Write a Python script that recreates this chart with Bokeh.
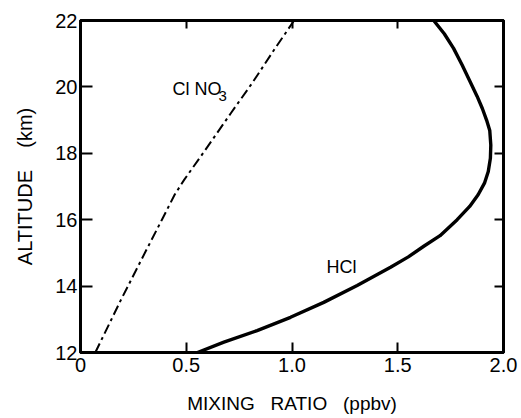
from bokeh.plotting import figure
from bokeh.models import Range1d, LinearAxis, FixedTicker, CustomJSTickFormatter
from bokeh.core.properties import value
from bokeh.embed import file_html
from bokeh.resources import INLINE

# HCl mixing ratio profile (ppbv) vs altitude (km)
hcl_x = [0.553, 0.678, 0.835, 0.993, 1.15, 1.308, 1.466, 1.55, 1.623, 1.70, 1.781, 1.84, 1.88, 1.91, 1.928,
         1.938, 1.94, 1.935, 1.92, 1.90, 1.875, 1.844, 1.805, 1.764, 1.72, 1.67]
hcl_y = [12.0, 12.31, 12.66, 13.06, 13.51, 14.02, 14.57, 14.88, 15.2, 15.52, 16.0, 16.4, 16.75, 17.1, 17.45,
         17.85, 18.25, 18.69, 19.0, 19.35, 19.72, 20.13, 20.65, 21.16, 21.6, 22.0]

# ClNO3 mixing ratio profile (ppbv) vs altitude (km)
clno3_x = [0.07, 0.19, 0.31, 0.385, 0.445, 0.49, 0.59, 0.71, 0.81, 0.92, 1.01]
clno3_y = [12.0, 13.57, 15.07, 16.0, 16.75, 17.2, 18.1, 19.2, 20.1, 21.16, 22.0]

x_ticks = [0, 0.5, 1.0, 1.5, 2.0]
x_tick_labels = ["0", "0.5", "1.0", "1.5", "2.0"]
y_ticks = [12, 14, 16, 18, 20, 22]
y_tick_labels = ["12", "14", "16", "18", "20", "22"]

label_hcl = ("HCl", 1.234, 14.59)
label_clno3 = ("Cl NO", 0.435, 19.94)
label_clno3_sub = ("3", 0.652, 19.72)

NB = "\u00a0"
x_title = "MIXING" + NB * 3 + "RATIO" + NB * 3 + "(ppbv)"
y_title = "ALTITUDE" + NB * 4 + "(km)"

FONT = "Liberation Sans"

p = figure(width=521, height=418, output_backend="svg", toolbar_location=None,
           x_range=Range1d(0, 2), y_range=Range1d(12, 22),
           min_border_left=80, min_border_right=18, min_border_top=20, min_border_bottom=66,
           x_axis_label=x_title, y_axis_label=y_title)
p.background_fill_color = "white"
p.border_fill_color = "white"
p.outline_line_color = "black"
p.outline_line_width = 3
p.grid.visible = False

p.line(hcl_x, hcl_y, line_color="black", line_width=3.4, line_join="round", line_cap="round")
p.line(clno3_x, clno3_y, line_color="black", line_width=2, line_dash="10 4 3 4", line_join="round")

p.text(x=[label_hcl[1]], y=[label_hcl[2]], text=[label_hcl[0]], text_font=value(FONT),
       text_font_size="18px", text_align="center", text_baseline="middle", text_color="black")
p.text(x=[label_clno3[1]], y=[label_clno3[2]], text=[label_clno3[0]], text_font=value(FONT),
       text_font_size="18px", text_align="left", text_baseline="middle", text_color="black")
p.text(x=[label_clno3_sub[1]], y=[label_clno3_sub[2]], text=[label_clno3_sub[0]], text_font=value(FONT),
       text_font_size="15px", text_align="left", text_baseline="middle", text_color="black")

xa = p.xaxis[0]
xa.ticker = FixedTicker(ticks=x_ticks)
xa.major_label_overrides = {t: l for t, l in zip(x_ticks, x_tick_labels)}
ya = p.yaxis[0]
ya.ticker = FixedTicker(ticks=y_ticks)
ya.major_label_overrides = {t: l for t, l in zip(y_ticks, y_tick_labels)}

for ax in (xa, ya):
    ax.axis_line_width = 3
    ax.axis_line_color = "black"
    ax.major_tick_line_width = 2
    ax.major_tick_line_color = "black"
    ax.major_tick_out = 0
    ax.minor_tick_line_color = None
    ax.major_label_text_font = FONT
    ax.major_label_text_font_size = "20px"
    ax.major_label_text_color = "black"
    ax.axis_label_text_font = FONT
    ax.axis_label_text_font_style = "normal"
    ax.axis_label_text_color = "black"

xa.major_tick_in = 10
xa.major_label_standoff = 5
xa.axis_label_text_font_size = "19px"
xa.axis_label_standoff = 18
ya.major_tick_in = 12
ya.major_label_standoff = 3
ya.axis_label_text_font_size = "20px"
ya.axis_label_standoff = 16

blank = CustomJSTickFormatter(code="return ''")
top = LinearAxis(ticker=FixedTicker(ticks=x_ticks), formatter=blank)
right = LinearAxis(ticker=FixedTicker(ticks=y_ticks), formatter=blank)
for ax, tin in ((top, 8), (right, 9)):
    ax.axis_line_width = 3
    ax.axis_line_color = "black"
    ax.major_tick_line_width = 2
    ax.major_tick_line_color = "black"
    ax.major_tick_in = tin
    ax.major_tick_out = 0
    ax.minor_tick_line_color = None
    ax.major_label_standoff = 0
p.add_layout(top, "above")
p.add_layout(right, "right")

open("out.html", "w").write(file_html(p, INLINE))
